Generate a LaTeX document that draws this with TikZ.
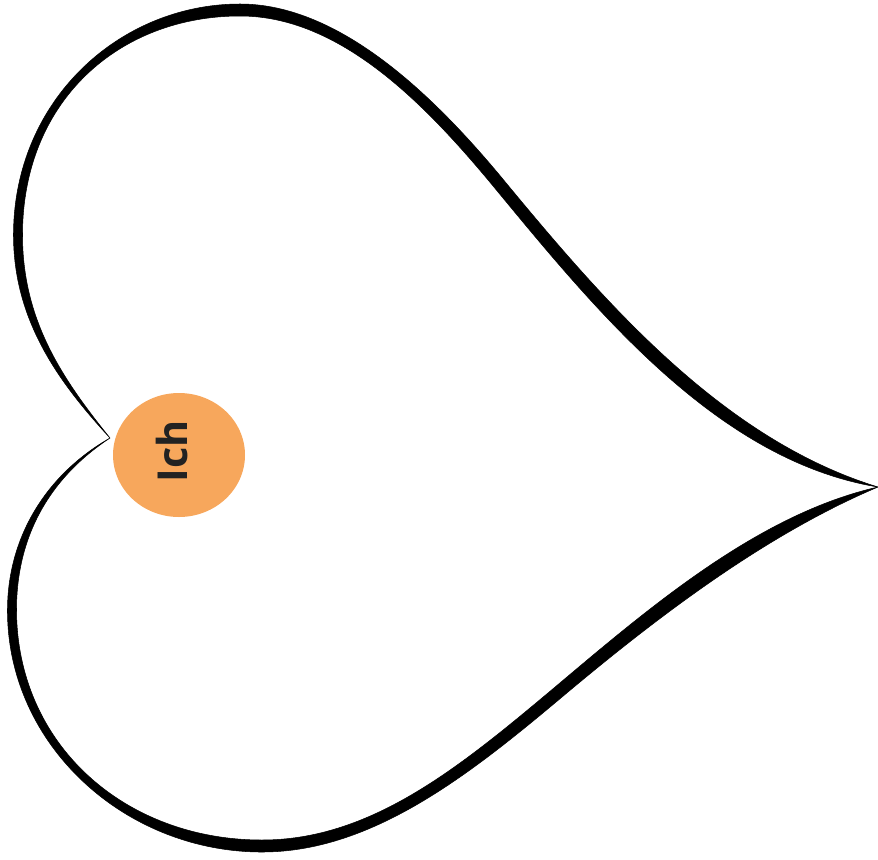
\documentclass[tikz,border=0pt]{standalone}
\usepackage{fontspec}
\usepackage{xcolor}
\usepackage{tikz}
\usetikzlibrary{shapes.geometric}
\newfontfamily\bubblefont{Open Sans}
\definecolor{bubbleorange}{HTML}{F7A75C}
\definecolor{bubbletext}{HTML}{222222}

\begin{document}
\begin{tikzpicture}[
    x=0.02cm, y=-0.02cm,
    ink/.style={fill=black, draw=black, line width=0.3pt, line join=round},
    bubble/.style={ellipse, fill=bubbleorange, minimum width=132*0.02cm,
      minimum height=124*0.02cm, inner sep=0pt},
    bubblelabel/.style={rotate=90, inner sep=0pt, text=bubbletext,
      font=\bubblefont\bfseries\fontsize{23.5}{23.5}\selectfont}
  ]
    \useasboundingbox (0,0) rectangle (878,859);
    % upper lobe, outer edge then inner edge
    \path[ink] (110,438) .. controls (58,381.5) and (13.5,320) .. (13.5,235)
      .. controls (13.5,100) and (120,4) .. (240,4)
      .. controls (340,4) and (434.6,96.2) .. (504.6,181.2)
      .. controls (604.6,302.2) and (722.5,439.3) .. (878,487)
      .. controls (717.5,460.7) and (595.4,309.8) .. (495.4,188.8)
      .. controls (425.4,103.8) and (340,16) .. (240,16)
      .. controls (120,16) and (22.5,100) .. (22.5,235)
      .. controls (22.5,320) and (62,378.5) .. (110,438) -- cycle;
    % lower lobe, outer edge then inner edge
    \path[ink] (110,438) .. controls (43.7,475.9) and (7.5,540) .. (7.5,610)
      .. controls (7,745) and (125,852) .. (262,852)
      .. controls (370,852) and (465.9,777.6) .. (558.9,699.6)
      .. controls (653.9,619.6) and (763.4,535.5) .. (878,487)
      .. controls (756.6,514.5) and (646.1,610.4) .. (551.1,690.4)
      .. controls (458.1,768.4) and (370,840) .. (262,840)
      .. controls (125,840) and (17,745) .. (16.5,610)
      .. controls (16.5,540) and (46.3,480.1) .. (110,438) -- cycle;
    \node[bubble] (ich) at (179,455) {};
    \node[bubblelabel] (ichtext) at (172,451) {Ich};
  \end{tikzpicture}
\end{document}
